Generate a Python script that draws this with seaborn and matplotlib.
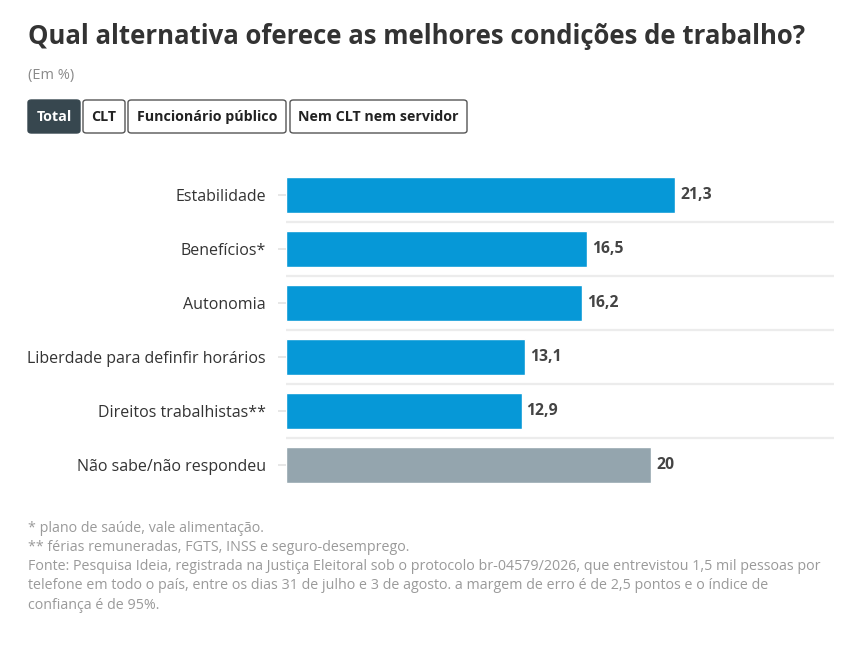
import matplotlib
matplotlib.use("Agg")
import matplotlib.pyplot as plt
from matplotlib.patches import FancyBboxPatch
import seaborn as sns
import pandas as pd

categories = ["Estabilidade", "Benefícios*", "Autonomia",
              "Liberdade para definfir horários", "Direitos trabalhistas**",
              "Não sabe/não respondeu"]
values = [21.3, 16.5, 16.2, 13.1, 12.9, 20]
value_labels = ["21,3", "16,5", "16,2", "13,1", "12,9", "20"]
groups = ["resp", "resp", "resp", "resp", "resp", "ns"]
buttons = ["Total", "CLT", "Funcionário público", "Nem CLT nem servidor"]

title = "Qual alternativa oferece as melhores condições de trabalho?"
subtitle = "(Em %)"
notes = [
    "* plano de saúde, vale alimentação.",
    "** férias remuneradas, FGTS, INSS e seguro-desemprego.",
    "Fonte: Pesquisa Ideia, registrada na Justiça Eleitoral sob o protocolo br-04579/2026, que entrevistou 1,5 mil pessoas por",
    "telefone em todo o país, entre os dias 31 de julho e 3 de agosto. a margem de erro é de 2,5 pontos e o índice de",
    "confiança é de 95%.",
]

sns.set_theme(style="white")
plt.rcParams["font.family"] = ["Open Sans", "DejaVu Sans"]

W, H = 846, 646
fig = plt.figure(figsize=(W / 100, H / 100), dpi=100)
fig.patch.set_facecolor("white")

def fx(px):
    return px / W

def fy(py):
    return 1 - py / H

ax = fig.add_axes([fx(286), fy(492), fx(834) - fx(286), fy(168) - fy(492)])

df = pd.DataFrame({"cat": categories, "val": values, "grp": groups})
sns.barplot(data=df, x="val", y="cat", hue="grp", dodge=False,
            palette={"resp": "#0698d7", "ns": "#94a5ae"},
            width=0.66, ax=ax, legend=False, saturation=1)

ax.set_xlim(0, 30)
ax.set_ylim(len(categories) - 0.5, -0.5)
for i in range(len(categories) - 1):
    ax.axhline(i + 0.5, color="#ececec", lw=1.6, zorder=0)

for s in ax.spines.values():
    s.set_visible(False)
ax.set_xticks([])
ax.set_xlabel("")
ax.set_ylabel("")
ax.tick_params(axis="y", length=6, width=1.2, color="#e3e3e3", pad=8.5,
               labelsize=11.5, labelcolor="#333333", left=True)

for i, (v, lab) in enumerate(zip(values, value_labels)):
    ax.text(v + 0.27, i, lab, va="center", ha="left", fontsize=11.3,
            fontweight="bold", color="#444444")

fig.text(fx(28), fy(37), title, fontsize=18.5, fontweight="bold",
         color="#333333", va="center", ha="left")
fig.text(fx(28), fy(75), subtitle, fontsize=10.5, color="#8a8a8a",
         va="center", ha="left")

btn_x = [(28, 80), (83, 125), (128, 286), (290, 467)]
for (x0, x1), b in zip(btn_x, buttons):
    active = b == "Total"
    rect = FancyBboxPatch((fx(x0), fy(133)), fx(x1) - fx(x0), fy(100) - fy(133),
                          boxstyle="round,pad=0,rounding_size=0.004",
                          transform=fig.transFigure,
                          facecolor="#37474f" if active else "white",
                          edgecolor="#37474f" if active else "#555555",
                          lw=1.0)
    fig.patches.append(rect)
    fig.text(fx((x0 + x1) / 2), fy(117), b, fontsize=10.3, fontweight="bold",
             color="white" if active else "#222222", ha="center", va="center")

for k, n in enumerate(notes):
    fig.text(fx(28), fy(528 + k * 19.3), n, fontsize=10.3, color="#9a9a9a",
             ha="left", va="center")

fig.savefig("out.png", dpi=100, facecolor="white")
